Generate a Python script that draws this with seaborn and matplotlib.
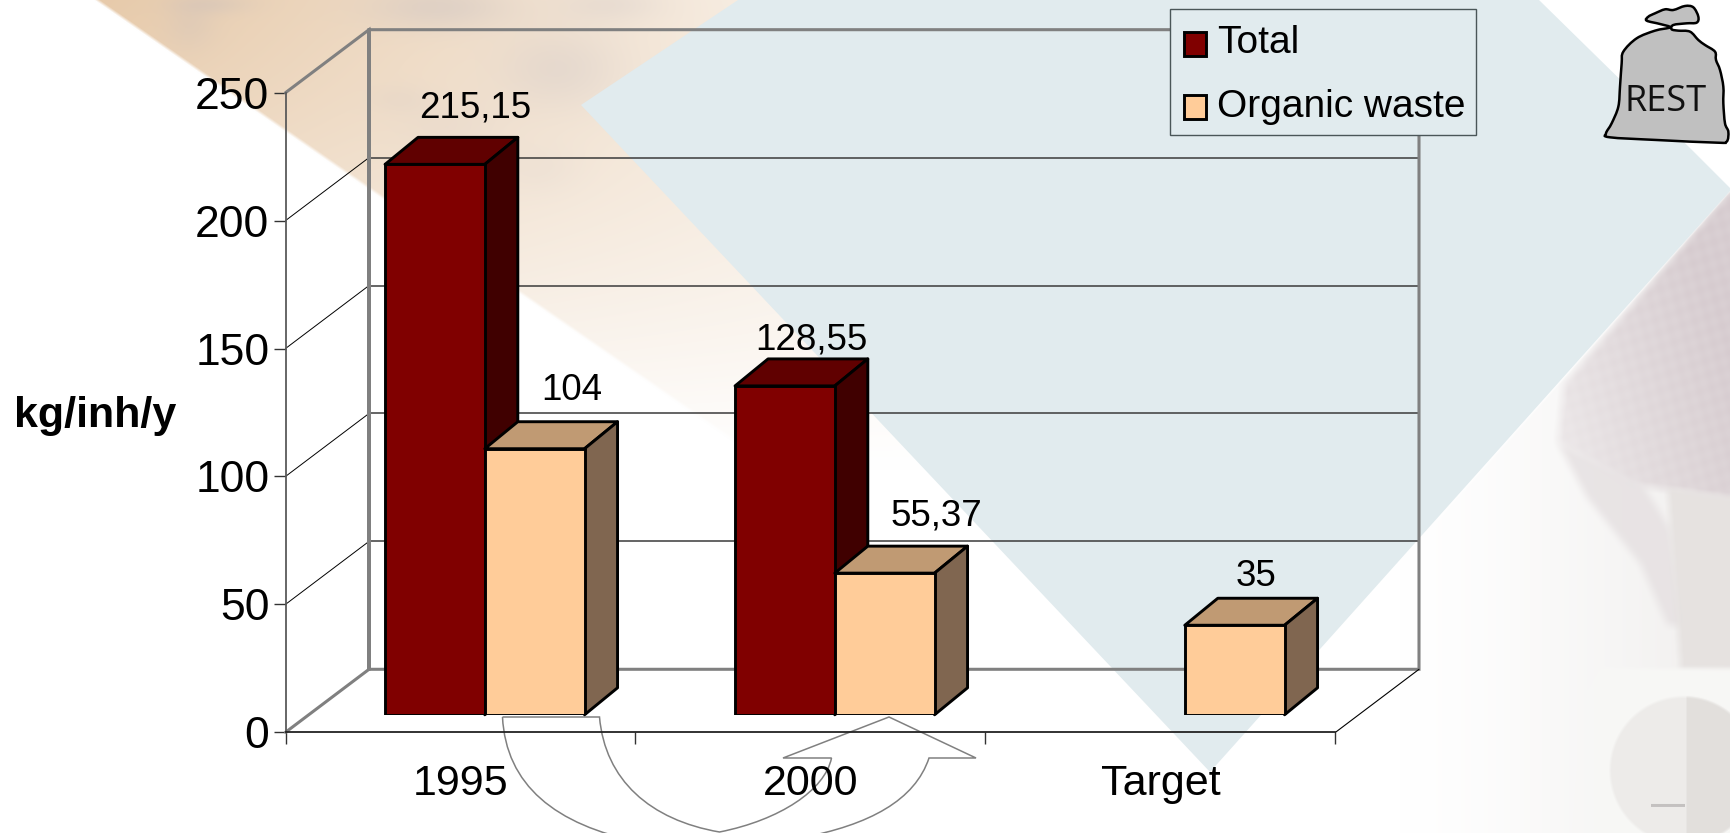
import numpy as np
import pandas as pd
import matplotlib
matplotlib.use("Agg")
import matplotlib.pyplot as plt
from matplotlib.patches import Polygon, PathPatch, Rectangle
from matplotlib.path import Path
import seaborn as sns

# ---- data ----
categories = ["1995", "2000", "Target"]
total_values = [215.15, 128.55, np.nan]
organic_values = [104, 55.37, 35]
series_names = ["Total", "Organic waste"]
y_ticks = [0, 50, 100, 150, 200, 250]
y_title = "kg/inh/y"
bag_label = "REST"

# ---- style ----
W, H = 1730, 833
TOTAL_C = "#800000"; TOTAL_TOP = "#600000"; TOTAL_SIDE = "#400000"
ORG_C = "#ffcc99"; ORG_TOP = "#c09a73"; ORG_SIDE = "#806650"
GREY = "#808080"
sns.set_style("white")
plt.rcParams["font.family"] = ["Liberation Sans", "DejaVu Sans"]
plt.rcParams["text.color"] = "black"
plt.rcParams["axes.labelcolor"] = "black"
plt.rcParams["xtick.labelcolor"] = "black"
plt.rcParams["ytick.labelcolor"] = "black"

fig = plt.figure(figsize=(W / 100, 8.3301), dpi=100, facecolor="white")

def rect_px(left, base, width, height):
    return [left / W, (H - base) / H, width / W, height / H]

# ---- background layer (pixel coordinates) ----
bg = fig.add_axes([0, 0, 1, 1], zorder=0)
bg.axis("off")
yy, xx = np.mgrid[0:H, 0:W].astype(float)
img = np.ones((H, W, 3))
grid_pts = np.column_stack([xx.ravel(), yy.ravel()])

def blend(mask, colour):
    c = matplotlib.colors.to_rgb(colour)
    for i in range(3):
        img[..., i] = img[..., i] * (1 - mask) + c[i] * mask

def box_blur(a, r):
    k = np.ones(2 * r + 1) / (2 * r + 1)
    a = np.apply_along_axis(lambda v: np.convolve(np.pad(v, r, mode="edge"), k, mode="valid"), 0, a)
    a = np.apply_along_axis(lambda v: np.convolve(np.pad(v, r, mode="edge"), k, mode="valid"), 1, a)
    return a

def poly_mask(verts, r=4):
    m = Path(verts).contains_points(grid_pts).reshape(H, W).astype(float)
    return box_blur(m, r)

# beige wedge, fading downwards and to the right
edge = (yy - 0.69 * (xx - 96)) / 4.0
inside = np.clip(0.5 - edge, 0, 1) * (xx < 1000)
fade = np.clip(1 - yy / 470, 0, 1) ** 1.2
across = np.clip(1 - np.clip(xx - 96 - yy / 0.69, 0, None) / 1000, 0.25, 1)
blend(inside * fade * across * 0.78, "#e0bb92")
for cx, cy, sx, sy, a in [(440, 8, 70, 22, .30), (560, 70, 60, 40, .22), (190, 25, 25, 25, .18),
                          (450, 130, 50, 30, .10), (210, 5, 40, 10, .25), (610, 5, 50, 18, .18),
                          (400, 100, 30, 15, .10), (540, 170, 40, 25, .08)]:
    g = np.exp(-((xx - cx) / sx) ** 2 - ((yy - cy) / sy) ** 2)
    blend(g * a * inside, "#bdb8c0")

# photo tone on the right
lower = (yy - (191 + (1730 - xx) * 1.123))
below_diamond = np.clip(lower / 4 + .5, 0, 1)
blend(below_diamond * np.clip((xx - 1400) / 330, 0, 1) ** 1.3 * 0.6, "#e6e3e1")
shirt = poly_mask([(1730, 191), (1563, 385), (1557, 442), (1633, 485), (1730, 498)], 5) * below_diamond
shade = np.clip(0.55 + (xx - 1560) / 340 - (yy - 300) / 900, 0.35, 1)
plaid = 0.93 + 0.07 * np.sin((xx + 0.5 * yy) / 3.2) * np.sin((yy - 0.6 * xx) / 3.6)
blend(shirt * shade * plaid, "#d6cbcf")
blend(poly_mask([(1557, 442), (1587, 498), (1640, 564), (1667, 625), (1682, 625), (1670, 529), (1643, 485)], 5) * 0.85,
      "#e6e1e2")
blend(poly_mask([(1667, 488), (1730, 498), (1730, 668), (1680, 668)], 4) * 0.9, "#e5e1df")
blend(poly_mask([(1600, 668), (1730, 668), (1730, 833), (1572, 833), (1585, 700)], 2) * 0.9, "#f8f8f6")
disc = np.clip((75 - np.hypot(xx - 1683, yy - 770)) / 3, 0, 1)
blend(disc * 0.8, "#ebe9e7")
blend(disc * np.clip((xx - 1685) / 2, 0, 1) * 0.9, "#e1dedb")
blend(disc * (np.abs(yy - 805) < 1.5) * (xx > 1650) * (xx < 1685) * 0.6, "#a9a5a5")
img = np.clip(img, 0, 1)
bg.imshow(img, extent=(0, W, H, 0), aspect="auto", zorder=0, interpolation="bilinear")
bg.set_xlim(0, W); bg.set_ylim(H, 0)

bg.add_patch(Polygon([(581, 105), (738, 0), (1539, 0), (1692, 150), (1730, 188), (1730, 191), (1210, 772)],
                     closed=True, fc="#e1ebee", ec="none", zorder=1))

# curved arrow under the bars
arrow_v = [(502.5, 717), (599.5, 717),
           (605, 780), (650, 820), (719.5, 832),
           (780, 820), (825, 790), (831.5, 758),
           (783, 758), (889, 717), (976, 758), (929, 758),
           (915, 800), (870, 825), (800, 838)]
arrow_c = [Path.MOVETO, Path.LINETO, Path.CURVE4, Path.CURVE4, Path.CURVE4, Path.CURVE4, Path.CURVE4, Path.CURVE4,
           Path.LINETO, Path.LINETO, Path.LINETO, Path.LINETO, Path.CURVE4, Path.CURVE4, Path.CURVE4]
bg.add_patch(PathPatch(Path(arrow_v, arrow_c), fc="none", ec=GREY, lw=1.1, zorder=4))
left_arc = Path([(502.5, 717), (506, 785), (555, 825), (640, 842)],
                [Path.MOVETO, Path.CURVE4, Path.CURVE4, Path.CURVE4])
bg.add_patch(PathPatch(left_arc, fc="none", ec=GREY, lw=1.1, zorder=4))

# rubbish bag with its smooth outline
bag_pts = np.array([(175, 50), (195, 40), (225, 28), (250, 30), (285, 18), (310, 22), (325, 50), (320, 68),
                    (290, 70), (250, 75), (245, 88), (265, 92), (300, 95), (325, 120), (345, 135), (375, 155),
                    (378, 180), (390, 210), (400, 260), (400, 310), (405, 370), (415, 395), (410, 425),
                    (380, 428), (200, 420), (60, 412), (48, 400), (65, 370), (85, 320), (90, 260), (95, 190),
                    (100, 155), (140, 115), (195, 92), (240, 82), (210, 72), (170, 62)], float)
bag_xy = np.column_stack([1590 + bag_pts[:, 0] / 3, bag_pts[:, 1] / 3])
n = len(bag_xy)
verts = [bag_xy[0]]; codes = [Path.MOVETO]
for i in range(n):
    p0, p1, p2, p3 = bag_xy[i - 1], bag_xy[i], bag_xy[(i + 1) % n], bag_xy[(i + 2) % n]
    verts += [p1 + (p2 - p0) / 6, p2 - (p3 - p1) / 6, p2]
    codes += [Path.CURVE4] * 3
bg.add_patch(PathPatch(Path(verts, codes), fc="#c0c0c0", ec="black", lw=1.8, zorder=5))
bg.text(1666, 102, bag_label, fontfamily="Open Sans", fontsize=26, ha="center", va="center", color="#111111", zorder=6)

# ---- frame axes: the front plane of the 3-D box ----
AX_L, AX_B, AX_W, AX_H = 285.5, 732.3, 1050, 639.6
front = fig.add_axes(rect_px(AX_L, AX_B, AX_W, AX_H), zorder=1)
front.patch.set_alpha(0)
front.set_xlim(-0.5, 2.5); front.set_ylim(0, 250)
DX = 83.5 / AX_W * 3
DY = 63 / AX_H * 250
for s in ("top", "right"):
    front.spines[s].set_visible(False)
front.spines["left"].set_color("#5a5a5a"); front.spines["left"].set_linewidth(1.3)
front.spines["bottom"].set_color("#222222"); front.spines["bottom"].set_linewidth(1.3)

front.set_xticks(range(3)); front.set_xticklabels(categories)
front.set_xticks([-0.5, 0.5, 1.5, 2.5], minor=True)
front.set_yticks(y_ticks)
front.tick_params(axis="x", which="major", length=0, labelsize=31, pad=23, bottom=True)
front.tick_params(axis="x", which="minor", length=8.6, width=1, color="#333333", bottom=True)
front.tick_params(axis="y", which="major", length=8.6, width=1, color="#333333", labelsize=32, pad=3, left=True)
front.set_ylabel(y_title, fontsize=31, fontweight="bold", rotation=0, ha="center", va="center")
front.yaxis.set_label_coords(-0.181, 0.495)

x0, x1 = -0.5, 2.5
for tick in y_ticks[1:-1]:
    front.plot([x0, x0 + DX], [tick, tick + DY], color="black", lw=0.7, clip_on=False, zorder=1)
    front.plot([x0 + DX, x1 + DX], [tick + DY] * 2, color="#3a3a3a", lw=1.1, clip_on=False, zorder=1)
ymax = y_ticks[-1]
front.plot([x0, x0 + DX, x0 + DX, x1 + DX, x1 + DX, x0 + DX, x0 + DX],
           [ymax, ymax + DY, DY, DY, ymax + DY, ymax + DY, DY],
           color=GREY, lw=2.2, clip_on=False, zorder=1.5, solid_joinstyle="miter")
front.plot([x0, x0 + DX], [0, DY], color=GREY, lw=2.2, clip_on=False, zorder=1.5)
front.plot([x1, x1 + DX], [0, DY], color="black", lw=0.8, clip_on=False, zorder=1.5)

# ---- bar plane, set back in the box ----
bars = fig.add_axes(rect_px(AX_L + 24.3, AX_B - 17.5, AX_W, AX_H), zorder=2)
bars.patch.set_alpha(0)
df = pd.DataFrame({
    "category": categories * 2,
    "series": [series_names[0]] * 3 + [series_names[1]] * 3,
    "value": total_values + organic_values,
})
sns.barplot(data=df, x="category", y="value", hue="series", order=categories, hue_order=series_names,
            palette=[TOTAL_C, ORG_C], saturation=1, width=0.57, gap=0, edgecolor="black", linewidth=2.1,
            ax=bars, legend=True)
bars.set_xlim(-0.5, 2.5); bars.set_ylim(0, 250)
bars.axis("off")

BDX = 33 / AX_W * 3
BDY = 27 / AX_H * 250
label_offsets = {("Total", "1995"): (40, 56), ("Organic waste", "1995"): (37, 58),
                 ("Total", "2000"): (26, 46), ("Organic waste", "2000"): (52, 57),
                 ("Organic waste", "Target"): (21, 49)}
for name, container, vals, top_c, side_c, z in zip(
        series_names, bars.containers, (total_values, organic_values),
        (TOTAL_TOP, ORG_TOP), (TOTAL_SIDE, ORG_SIDE), (2, 4)):
    cats = [c for c, v in zip(categories, vals) if not np.isnan(v)]
    vs = [v for v in vals if not np.isnan(v)]
    rects = [r for r in container if r.get_height() > 0]
    for r, cat, v in zip(rects, cats, vs):
        r.set_zorder(z + 1)
        l, w, h = r.get_x(), r.get_width(), r.get_height()
        bars.add_patch(Polygon([(l, h), (l + BDX, h + BDY), (l + w + BDX, h + BDY), (l + w, h)],
                               closed=True, fc=top_c, ec="black", lw=2.1, joinstyle="round", zorder=z, clip_on=False))
        bars.add_patch(Polygon([(l + w, 0), (l + w + BDX, BDY), (l + w + BDX, h + BDY), (l + w, h)],
                               closed=True, fc=side_c, ec="black", lw=2.1, joinstyle="round", zorder=z, clip_on=False))
        off = label_offsets[(name, cat)]
        bars.annotate(f"{v:g}".replace(".", ","), xy=(l + w / 2, h), xytext=off, textcoords="offset pixels",
                      ha="center", va="center", fontsize=26.5, color="black", zorder=8, annotation_clip=False)

# legend panel, drawn to the exact size of the original box
bars.add_patch(Rectangle((1170 / W, 1 - 135 / H), 306 / W, 126 / H, transform=fig.transFigure, fc="#e1ebee",
                         ec="#4a5658", lw=1.0, zorder=9, clip_on=False))
sns.move_legend(bars, "upper left", bbox_to_anchor=(1169 / W, 1 - 10.5 / H), bbox_transform=fig.transFigure,
                title=None, fontsize=28, frameon=False, borderaxespad=0, borderpad=0.38, labelspacing=0.7,
                handlelength=0.58, handleheight=0.58, handletextpad=0.28, labelcolor="black")
leg = bars.get_legend()
leg.set_zorder(10)
for h in leg.legend_handles:
    h.set_edgecolor("black"); h.set_linewidth(2.1)
    h.set_y(h.get_y() - 3.0)

fig.savefig("out.png", dpi=100, facecolor="white")
